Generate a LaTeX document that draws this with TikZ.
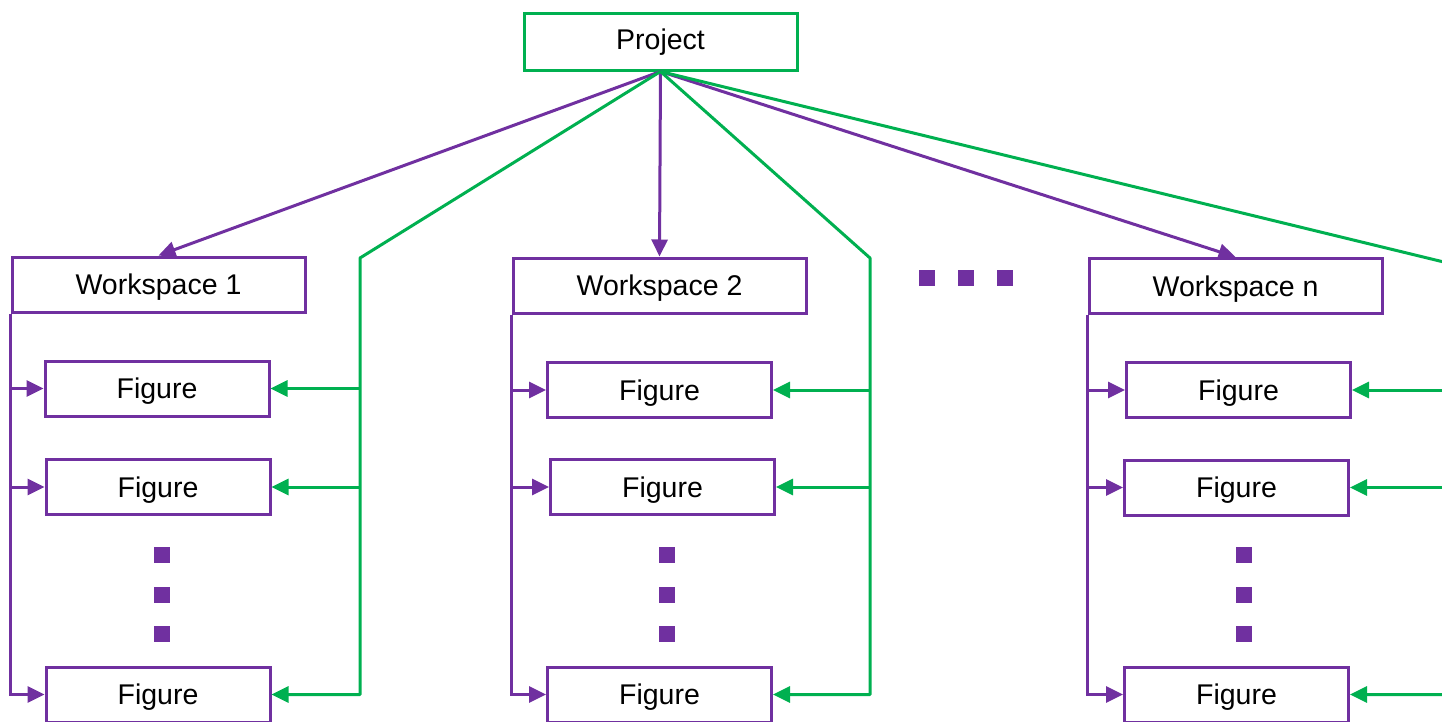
\documentclass[tikz,border=0pt]{standalone}
\usepackage{fontspec}
\setmainfont{Liberation Sans}
\usetikzlibrary{arrows.meta}
\definecolor{pp}{HTML}{7030A0}
\definecolor{gg}{HTML}{00B050}
\begin{document}
\begin{tikzpicture}[x=1pt,y=-1pt,
  box/.style={draw=pp,line width=3pt,rectangle,inner sep=0pt,fill=white,
    minimum height=55pt,text height=21pt,text depth=0.6pt,font=\fontsize{28.5}{30}\selectfont},
  wsbox/.style={box,minimum width=293pt},
  figbox/.style={box,minimum width=224pt},
  pline/.style={draw=pp,line width=3pt},
  gline/.style={draw=gg,line width=3pt},
  tip/.style={-{Triangle[length=17pt,width=16pt]}},
  sq/.style={fill=pp,inner sep=0pt,minimum size=16pt,rectangle}]
\useasboundingbox (0,0) rectangle (1442,721);
\clip (0,0) rectangle (1442,721);
% nodes
\node[box,draw=gg,minimum width=273pt,minimum height=57pt,text depth=5.6pt] (proj) at (660.5,41.5) {Project};
\node[wsbox] (ws1) at (158.5,284.5) {Workspace 1};
\node[wsbox] (ws2) at (659.5,285.5) {Workspace 2};
\node[wsbox] (wsn) at (1235.5,286) {Workspace n};
\node[figbox] (f11) at (157,388.5) {Figure};
\node[figbox] (f12) at (158,487) {Figure};
\node[figbox] (f13) at (158,694.5) {Figure};
\node[figbox] (f21) at (659.5,390) {Figure};
\node[figbox] (f22) at (662.5,487) {Figure};
\node[figbox] (f23) at (659.5,694.5) {Figure};
\node[figbox] (f31) at (1238.5,390) {Figure};
\node[figbox] (f32) at (1236.5,487.5) {Figure};
\node[figbox] (f33) at (1236.5,694.5) {Figure};
% dots
\node[sq] (h1) at (927,278) {};
\node[sq] (h2) at (966,278) {};
\node[sq] (h3) at (1005,278) {};
\node[sq] (v11) at (162,555) {};
\node[sq] (v12) at (162,595) {};
\node[sq] (v13) at (162,634) {};
\node[sq] (v21) at (667,555) {};
\node[sq] (v22) at (667,595) {};
\node[sq] (v23) at (667,634) {};
\node[sq] (v31) at (1244,555) {};
\node[sq] (v32) at (1244,595) {};
\node[sq] (v33) at (1244,634) {};
% corners of green lines
\coordinate (c1) at (360,258);
\coordinate (c2) at (870,258);
\coordinate (c3) at (1452,264);
% project to workspaces
\draw[pline,tip] (proj.south) -- (ws1.north);
\draw[pline,tip] (proj.south) -- (ws2.north);
\draw[pline,tip] (proj.south) -- (wsn.north);
% green lines to figures
\draw[gline,tip,line join=round] (proj.south) -- (c1) |- (f13.east);
\draw[gline,tip] (f11.east -| c1) -- (f11.east);
\draw[gline,tip] (f12.east -| c1) -- (f12.east);
\draw[gline,tip,line join=round] (proj.south) -- (c2) |- (f23.east);
\draw[gline,tip] (f21.east -| c2) -- (f21.east);
\draw[gline,tip] (f22.east -| c2) -- (f22.east);
\draw[gline,tip,line join=round] (proj.south) -- (c3) |- (f33.east);
\draw[gline,tip] (f31.east -| c3) -- (f31.east);
\draw[gline,tip] (f32.east -| c3) -- (f32.east);
% purple trunks
\draw[pline,tip] (ws1.south west) |- (f13.west);
\draw[pline,tip] (f11.west -| ws1.south west) -- (f11.west);
\draw[pline,tip] (f12.west -| ws1.south west) -- (f12.west);
\draw[pline,tip] (ws2.south west) |- (f23.west);
\draw[pline,tip] (f21.west -| ws2.south west) -- (f21.west);
\draw[pline,tip] (f22.west -| ws2.south west) -- (f22.west);
\draw[pline,tip] (wsn.south west) |- (f33.west);
\draw[pline,tip] (f31.west -| wsn.south west) -- (f31.west);
\draw[pline,tip] (f32.west -| wsn.south west) -- (f32.west);
\end{tikzpicture}
\end{document}
